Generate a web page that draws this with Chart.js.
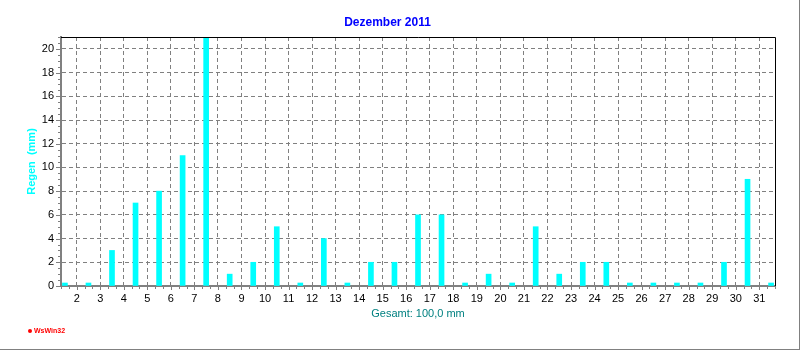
<!DOCTYPE html>
<html>
<head>
<meta charset="utf-8">
<title>Dezember 2011</title>
<script src="https://cdn.jsdelivr.net/npm/chart.js@4/dist/chart.umd.min.js"></script>
<style>
  html, body { margin: 0; padding: 0; background: #fff; }
  #wrap { width: 800px; height: 350px; }
</style>
</head>
<body>
<div id="wrap"><canvas id="rainChart" width="800" height="350"></canvas></div>
<script>
// daily rain, December 2011 (mm)
const days = [1, 2, 3, 4, 5, 6, 7, 8, 9, 10, 11, 12, 13, 14, 15, 16,
              17, 18, 19, 20, 21, 22, 23, 24, 25, 26, 27, 28, 29, 30, 31];
const rainMm = [0, 0, 3, 7, 8, 11, 21, 1, 2, 5, 0, 4, 0, 2, 2, 6,
                6, 0, 1, 0, 5, 1, 2, 2, 0, 0, 0, 0, 2, 9, 0];
const yTicks = [0, 2, 4, 6, 8, 10, 12, 14, 16, 18, 20];
const chartTitle = "Dezember 2011";
const yTitle = "Regen  (mm)";
const xTitle = "Gesamt: 100,0 mm";

const FONT = "'Liberation Sans', Arial, sans-serif";
const GRID = "#808080";

// gridline d marks the start of day d, so each bar sits mid-day
const points = days.map((d, i) => ({ x: d + 0.5, y: rainMm[i] }));

const decorations = {
  id: "decorations",
  afterDraw(chart) {
    const { ctx, chartArea: area, scales: { x, y } } = chart;
    ctx.save();
    ctx.strokeStyle = GRID;
    ctx.lineWidth = 1;
    ctx.beginPath();
    // small ticks on the value axis, every 0.5 mm
    for (let v = 0; v <= y.max; v += 0.5) {
      const py = Math.round(y.getPixelForValue(v)) + 0.5;
      const len = yTicks.includes(v) ? 4 : 2;
      ctx.moveTo(area.left - 1 - len, py);
      ctx.lineTo(area.left - 1, py);
    }
    // small ticks under the day axis, every 8 hours
    for (let k = Math.ceil(x.min * 3); k <= x.max * 3; k++) {
      const px = Math.round(x.getPixelForValue(k / 3)) + 0.5;
      const len = k % 3 === 0 ? 3 : 2;
      ctx.moveTo(px, area.bottom + 1);
      ctx.lineTo(px, area.bottom + 1 + len);
    }
    ctx.stroke();

    // black frame top and right
    ctx.strokeStyle = "#000";
    ctx.beginPath();
    ctx.moveTo(area.left, Math.round(area.top) + 0.5);
    ctx.lineTo(Math.round(area.right) + 0.5, Math.round(area.top) + 0.5);
    ctx.lineTo(Math.round(area.right) + 0.5, area.bottom);
    ctx.stroke();

    // window edge
    ctx.fillStyle = GRID;
    ctx.fillRect(chart.width - 1, 0, 1, chart.height);
    ctx.fillRect(0, chart.height - 1, chart.width, 1);

    // program logo
    ctx.fillStyle = "#ff0000";
    ctx.beginPath();
    ctx.arc(30, 331, 2, 0, Math.PI * 2);
    ctx.fill();
    ctx.font = "bold 7px " + FONT;
    ctx.textBaseline = "middle";
    ctx.fillText("WsWin32", 34, 331);
    ctx.restore();
  }
};

const rainChart = new Chart(document.getElementById("rainChart"), {
  type: "bar",
  data: {
    datasets: [{
      label: "Regen",
      data: points,
      backgroundColor: "#00ffff",
      borderWidth: 0,
      barThickness: 5,
      minBarLength: 3
    }]
  },
  options: {
    responsive: false,
    animation: false,
    devicePixelRatio: 1,
    layout: { padding: { left: 0, right: 25, top: 0, bottom: 0 } },
    plugins: {
      legend: { display: false },
      tooltip: { enabled: false },
      title: {
        display: true,
        text: chartTitle,
        color: "#0000ff",
        font: { family: FONT, size: 12, weight: "bold", lineHeight: 1.25 },
        padding: { top: 15, bottom: 7 }
      }
    },
    scales: {
      x: {
        type: "linear",
        offset: false,
        min: 1 + 1 / 3,
        max: 31 + 2 / 3,
        grid: { offset: false, color: GRID, lineWidth: 1, drawTicks: false },
        border: { color: GRID, width: 2, dash: [4, 3] },
        ticks: {
          stepSize: 1,
          includeBounds: false,
          autoSkip: false,
          maxRotation: 0,
          padding: 6,
          color: "#000",
          font: { family: FONT, size: 11 },
          callback: (v) => String(v)
        },
        title: {
          display: true,
          text: xTitle,
          color: "#008080",
          font: { family: FONT, size: 11 },
          padding: { top: 0, bottom: 29 }
        },
        afterFit: (scale) => { scale.height = 64; }
      },
      y: {
        min: 0,
        max: 21,
        grid: { color: GRID, lineWidth: 1, drawTicks: false },
        border: { color: GRID, width: 2, dash: [4, 3] },
        ticks: {
          stepSize: 2,
          includeBounds: false,
          padding: 7,
          color: "#000",
          font: { family: FONT, size: 11 }
        },
        title: {
          display: true,
          text: yTitle,
          color: "#00ffff",
          font: { family: FONT, size: 11, weight: "bold" },
          padding: { top: 25, bottom: 0 }
        },
        afterFit: (scale) => { scale.width = 61; }
      }
    }
  },
  plugins: [decorations]
});
</script>
</body>
</html>
